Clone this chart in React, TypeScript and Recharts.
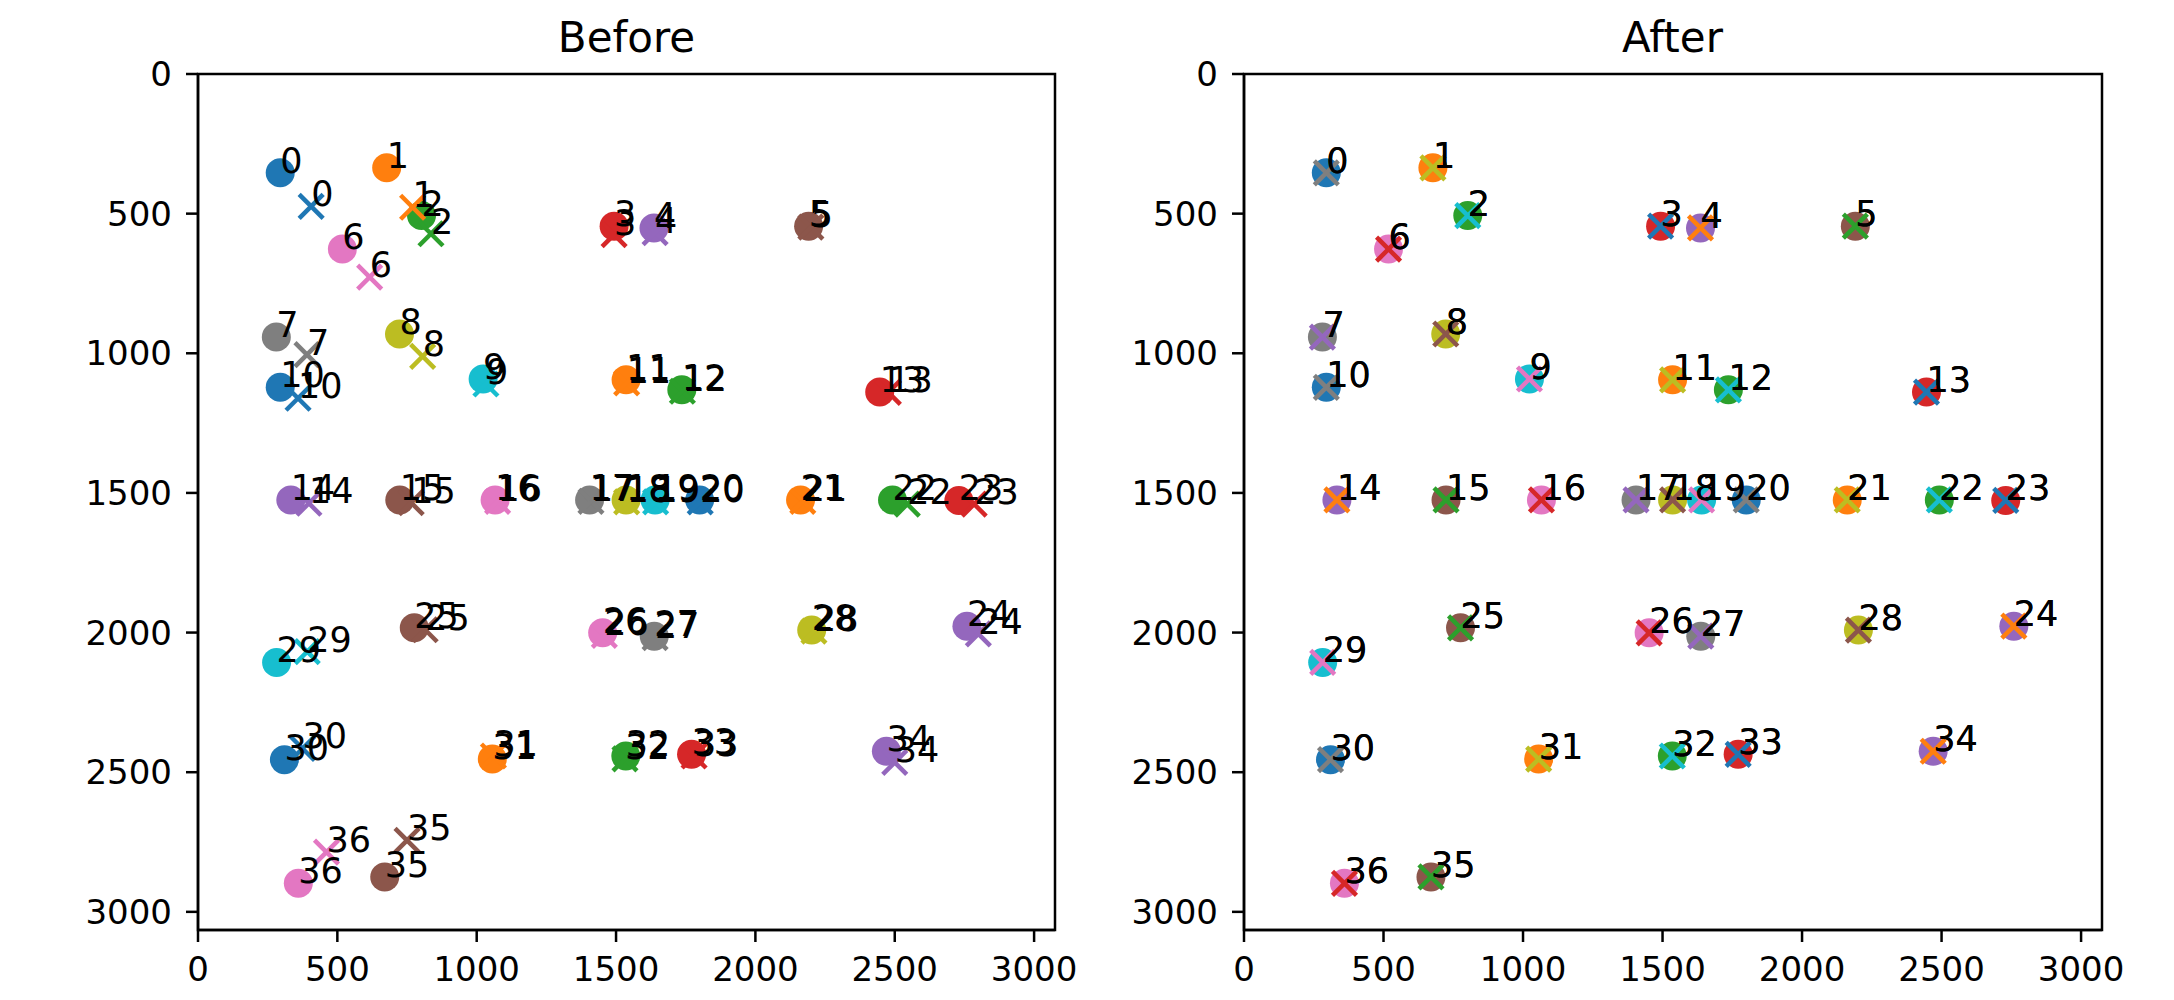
import React from 'react';
import { ScatterChart, Scatter, XAxis, YAxis, ReferenceArea } from 'recharts';

const TAB10 = ['#1f77b4', '#ff7f0e', '#2ca02c', '#d62728', '#9467bd', '#8c564b', '#e377c2', '#7f7f7f', '#bcbd22', '#17becf'];

// circle points (same in both panels)
const pointX = [295, 677, 802, 1493, 1636, 2191, 518, 281, 723, 1023, 295, 1536, 1736, 2446, 333, 724, 1066, 1405, 1536, 1640, 1800, 2162, 2492, 2730, 2759, 776, 1452, 1637, 2202, 282, 310, 1056, 1535, 1771, 2470, 670, 360];
const pointY = [354, 336, 507, 545, 551, 545, 627, 942, 931, 1092, 1122, 1095, 1131, 1139, 1525, 1525, 1525, 1525, 1525, 1525, 1525, 1525, 1525, 1527, 1977, 1983, 2001, 2013, 1991, 2107, 2455, 2453, 2442, 2436, 2425, 2875, 2898];

// crosses before matching
const crossX = [406, 770, 836, 1493, 1640, 2199, 616, 391, 806, 1033, 359, 1538, 1738, 2477, 398, 765, 1075, 1410, 1538, 1642, 1802, 2170, 2545, 2785, 2800, 815, 1458, 1640, 2210, 392, 375, 1060, 1532, 1780, 2500, 750, 461];
const crossY = [474, 477, 572, 575, 568, 548, 727, 1005, 1011, 1110, 1161, 1106, 1136, 1140, 1537, 1535, 1530, 1530, 1532, 1532, 1532, 1530, 1540, 1540, 2005, 1990, 2010, 2018, 1995, 2068, 2415, 2442, 2452, 2442, 2465, 2744, 2786];

const xTicks = [0, 500, 1000, 1500, 2000, 2500, 3000];
const yTicks = [0, 500, 1000, 1500, 2000, 2500, 3000];
const X_MAX = 3075;
const Y_MAX = 3065;

const FONT = 'DejaVu Sans';

const points = pointX.map((x, i) => ({ x, y: pointY[i], i }));
const beforeCrosses = crossX.map((x, i) => ({ x, y: crossY[i], i }));
// after matching the crosses sit on the points; colour cycle continues from 37
const afterCrosses = points.map((p) => ({ ...p, c: (p.i + 37) % 10 }));

const Dot = (props: any) => (
  <circle cx={props.cx} cy={props.cy} r={14.5} fill={TAB10[props.payload.i % 10]} />
);

const Cross = (props: any) => {
  const { cx, cy, payload } = props;
  const color = TAB10[(payload.c ?? payload.i) % 10];
  const h = 12;
  return (
    <g stroke={color} strokeWidth={4.5}>
      <line x1={cx - h} y1={cy - h} x2={cx + h} y2={cy + h} />
      <line x1={cx - h} y1={cy + h} x2={cx + h} y2={cy - h} />
    </g>
  );
};

const Tag = (props: any) => (
  <text x={props.cx} y={props.cy} fontSize={35} fontFamily={FONT} fill="#000">
    {props.payload.i}
  </text>
);

function Panel({ crosses, marginLeft, marginRight, width }: any) {
  const tickStyle = { fill: '#000', fontSize: 34, fontFamily: FONT };
  return (
    <ScatterChart width={width} height={1000} margin={{ top: 74, right: marginRight, left: marginLeft, bottom: 0 }}>
      <XAxis
        type="number"
        dataKey="x"
        domain={[0, X_MAX]}
        ticks={xTicks}
        height={70}
        tickSize={12}
        tickMargin={15}
        tick={tickStyle}
        axisLine={{ stroke: '#000', strokeWidth: 2.5 }}
        tickLine={{ stroke: '#000', strokeWidth: 2.5 }}
      />
      <YAxis
        type="number"
        dataKey="y"
        reversed
        domain={[0, Y_MAX]}
        ticks={yTicks}
        width={120}
        tickSize={12}
        tickMargin={14}
        tick={tickStyle}
        axisLine={{ stroke: '#000', strokeWidth: 2.5 }}
        tickLine={{ stroke: '#000', strokeWidth: 2.5 }}
      />
      <ReferenceArea x1={0} x2={X_MAX} y1={0} y2={Y_MAX} fill="none" stroke="#000" strokeWidth={2.5} />
      <Scatter data={points} shape={Dot} isAnimationActive={false} />
      <Scatter data={crosses} shape={Cross} isAnimationActive={false} />
      <Scatter data={points} shape={Tag} isAnimationActive={false} />
      <Scatter data={crosses} shape={Tag} isAnimationActive={false} />
    </ScatterChart>
  );
}

export default function App() {
  return (
    <div style={{ position: 'absolute', left: 0, top: 0, width: 2174, height: 1000, background: '#fff' }}>
      <div style={{ position: 'absolute', left: 0, top: 0 }}>
        <Panel crosses={beforeCrosses} width={1100} marginLeft={78} marginRight={45} />
      </div>
      <div style={{ position: 'absolute', left: 1100, top: 0 }}>
        <Panel crosses={afterCrosses} width={1074} marginLeft={24} marginRight={72} />
      </div>
      <svg width={2174} height={1000} style={{ position: 'absolute', left: 0, top: 0, pointerEvents: 'none' }}>
        <text x={626.5} y={52} textAnchor="middle" fontSize={42} fontFamily={FONT} fill="#000">Before</text>
        <text x={1672.5} y={52} textAnchor="middle" fontSize={42} fontFamily={FONT} fill="#000">After</text>
      </svg>
    </div>
  );
}
